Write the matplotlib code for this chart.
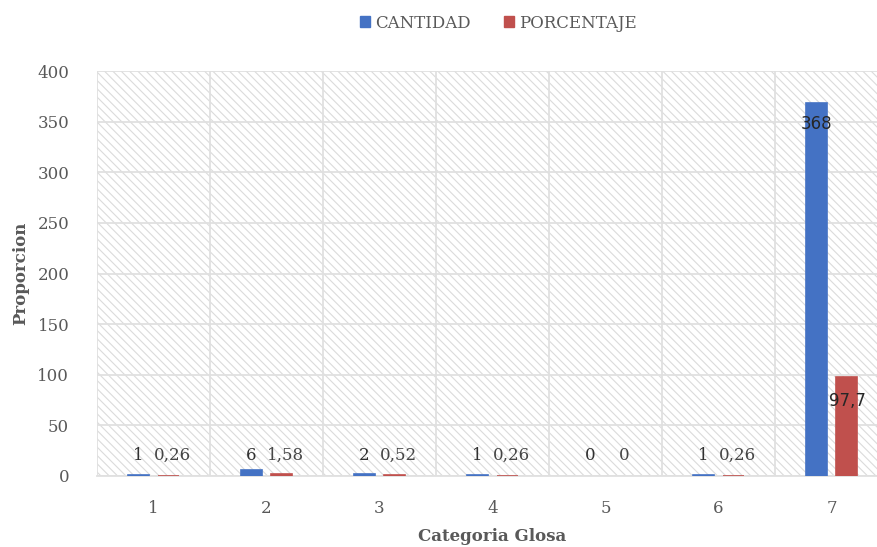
import matplotlib
matplotlib.use("Agg")
import matplotlib.pyplot as plt
from matplotlib.patches import Rectangle, Patch
import numpy as np

categories = ["1", "2", "3", "4", "5", "6", "7"]
cantidad = [1, 6, 2, 1, 0, 1, 368]
porcentaje = [0.26, 1.58, 0.52, 0.26, 0, 0.26, 97.7]
cantidad_labels = ["1", "6", "2", "1", "0", "1", "368"]
porcentaje_labels = ["0,26", "1,58", "0,52", "0,26", "0", "0,26", "97,7"]
yticks = [0, 50, 100, 150, 200, 250, 300, 350, 400]

BLUE = "#4472C4"
RED = "#C0504D"
GREY = "#595959"
GRID = "#e0e0e0"

plt.rcParams['font.family'] = ['DejaVu Serif']
plt.rcParams['hatch.linewidth'] = 0.8

W, H = 877, 547
fig = plt.figure(figsize=(W / 100, H / 100), dpi=100)
ax = fig.add_axes([97 / W, (H - 476) / H, 791 / W, 405 / H])

x = np.arange(len(categories))
bw = 0.186
off = 0.137

# hatched background
bg = Rectangle((0, 0), 1, 1, transform=ax.transAxes, facecolor="white",
               edgecolor="#dbdbdb", linewidth=0, hatch="\\" * 4, zorder=0)
ax.add_patch(bg)

lw_c = [1.2 if v > 0 else 0 for v in cantidad]
lw_p = [1.2 if v > 0 else 0 for v in porcentaje]
ax.bar(x - off, cantidad, bw, color=BLUE, edgecolor=BLUE, linewidth=lw_c, zorder=3)
ax.bar(x + off, porcentaje, bw, color=RED, edgecolor=RED, linewidth=lw_p, zorder=3)

ax.set_xlim(-0.5, len(categories) - 0.5)
ax.set_ylim(0, 400)

for i in range(len(categories)):
    if cantidad[i] > 50:
        ax.annotate(cantidad_labels[i], (x[i] - off, cantidad[i]), xytext=(0, -21),
                    textcoords="offset points", ha="center", va="bottom",
                    fontsize=12, color="#262626", family="DejaVu Sans", zorder=5)
        ax.annotate(porcentaje_labels[i], (x[i] + off, porcentaje[i]), xytext=(0, -24),
                    textcoords="offset points", ha="center", va="bottom",
                    fontsize=12, color="#262626", family="DejaVu Sans", zorder=5)
    else:
        ax.text(x[i] - off, 20, cantidad_labels[i], ha="center", va="center",
                fontsize=12, color="#303030", zorder=5)
        ax.text(x[i] + off + 0.03, 20, porcentaje_labels[i], ha="center", va="center",
                fontsize=12, color="#454545", zorder=5)

ax.set_yticks(yticks)
ax.set_xticks(x)
ax.set_xticklabels(categories)
ax.set_xticks(np.arange(len(categories) + 1) - 0.5, minor=True)
ax.tick_params(axis="both", which="both", length=0, colors=GREY, labelsize=12)
ax.tick_params(axis="y", pad=20)
ax.tick_params(axis="x", pad=17)

ax.grid(axis="y", which="major", color=GRID, linewidth=1.3, zorder=1)
ax.grid(axis="x", which="minor", color=GRID, linewidth=1.3, zorder=1)
ax.grid(axis="x", which="major", visible=False)
for s in ax.spines.values():
    s.set_visible(False)
ax.spines["bottom"].set_visible(True)
ax.spines["bottom"].set_color(GRID)
ax.spines["bottom"].set_linewidth(1.3)
ax.spines["bottom"].set_zorder(2)

ax.set_ylabel("Proporcion", fontsize=12, fontweight="bold", color=GREY, labelpad=6)
ax.set_xlabel("Categoria Glosa", fontsize=12, fontweight="bold", color=GREY, labelpad=8)

handles = [Patch(color=BLUE), Patch(color=RED)]
fig.legend(handles, ["CANTIDAD", "PORCENTAJE"], loc="center", bbox_to_anchor=(498 / W, 1 - 23 / H),
           ncol=2, frameon=False, fontsize=12, handlelength=0.6, handleheight=0.6,
           handletextpad=0.3, columnspacing=2.0, labelcolor=GREY)

fig.savefig("out.png", dpi=100)
